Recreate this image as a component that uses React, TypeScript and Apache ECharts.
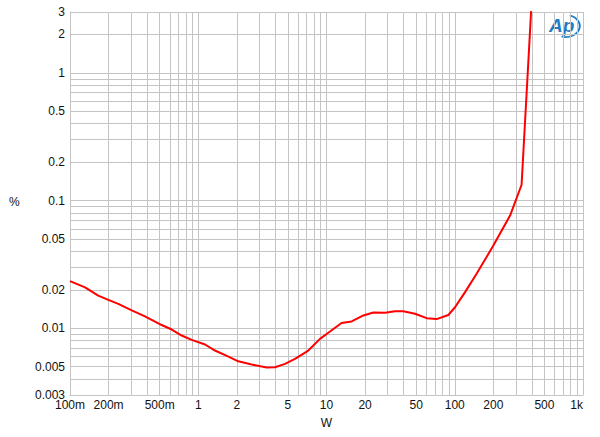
import React, { useEffect, useRef } from "react";
import * as echarts from "echarts";

// Output power (W)
const power = [
  0.1, 0.131, 0.166, 0.199, 0.238, 0.303, 0.384, 0.519, 0.621, 0.743, 0.889,
  1.13, 1.35, 1.72, 2.05, 2.61, 3.42, 3.97, 4.75, 5.68, 7.21, 8.9, 10.65,
  13.1, 15.7, 19.4, 23.2, 28.6, 34.2, 39.7, 49, 60.4, 72.3, 89.1, 100.5, 120,
  148, 200, 270, 332, 394,
];
// THD+N (%)
const thdn = [
  0.0234, 0.0209, 0.018, 0.0167, 0.0155, 0.0138, 0.0124, 0.0106, 0.00977,
  0.00877, 0.00811, 0.00746, 0.00669, 0.006, 0.00551, 0.0052, 0.00492,
  0.00495, 0.00526, 0.00576, 0.00669, 0.00826, 0.00942, 0.011, 0.0113,
  0.0126, 0.0133, 0.0132, 0.0136, 0.0136, 0.013, 0.012, 0.0118, 0.0127,
  0.0146, 0.0191, 0.0267, 0.0444, 0.0763, 0.133, 3.05,
];

const xLabelValues = [0.1, 0.2, 0.5, 1, 2, 5, 10, 20, 50, 100, 200, 500, 1000];
const xLabelTexts = ["100m", "200m", "500m", "1", "2", "5", "10", "20", "50", "100", "200", "500", "1k"];
const yLabelValues = [0.003, 0.005, 0.01, 0.02, 0.05, 0.1, 0.2, 0.5, 1, 2, 3];
const yLabelTexts = ["0.003", "0.005", "0.01", "0.02", "0.05", "0.1", "0.2", "0.5", "1", "2", "3"];

const xDecades = [0.1, 1, 10, 100];
const yDecades = [0.001, 0.01, 0.1, 1];
const mults = [1, 2, 3, 4, 5, 6, 7, 8, 9];

const round = (v: number) => Number(v.toPrecision(6));

const xGrid: number[] = [];
xDecades.forEach((d) => mults.forEach((m) => xGrid.push(round(d * m))));
xGrid.push(1000);
const yGrid: number[] = [];
yDecades.forEach((d) =>
  mults.forEach((m) => {
    const v = round(d * m);
    if (v >= 0.003 && v <= 3) yGrid.push(v);
  })
);

const findLabel = (vals: number[], texts: string[], v: number) => {
  for (let i = 0; i < vals.length; i++) {
    if (Math.abs(vals[i] - v) / vals[i] < 1e-4) return texts[i];
  }
  return "";
};

const FONT = "'Liberation Sans', Arial, sans-serif";
const GRID = "#c4c4c4";

export default function App() {
  const ref = useRef<HTMLDivElement>(null);
  useEffect(() => {
    if (!ref.current) return;
    const chart = echarts.init(ref.current, undefined, { renderer: "svg" });
    chart.setOption({
      animation: false,
      backgroundColor: "#ffffff",
      grid: { left: 70, right: 17, top: 12, bottom: 42, containLabel: false },
      xAxis: {
        type: "log",
        logBase: 10,
        min: 0.1,
        max: 1000,
        name: "W",
        nameLocation: "middle",
        nameGap: 22,
        nameTextStyle: { fontFamily: FONT, fontSize: 12, color: "#111" },
        axisLine: { show: true, lineStyle: { color: GRID, width: 1 } },
        axisTick: { show: false, customValues: xGrid },
        splitLine: { show: true, lineStyle: { color: GRID, width: 1 } },
        minorSplitLine: { show: false },
        axisLabel: {
          customValues: xLabelValues,
          formatter: (v: number) => findLabel(xLabelValues, xLabelTexts, v),
          fontFamily: FONT,
          fontSize: 12,
          color: "#111",
          margin: 4,
          alignMaxLabel: "right",
          showMinLabel: true,
          showMaxLabel: true,
        },
      },
      yAxis: {
        type: "log",
        logBase: 10,
        min: 0.003,
        max: 3,
        axisLine: { show: true, lineStyle: { color: GRID, width: 1 } },
        axisTick: { show: false, customValues: yGrid },
        splitLine: { show: true, lineStyle: { color: GRID, width: 1 } },
        axisLabel: {
          customValues: yLabelValues,
          formatter: (v: number) => findLabel(yLabelValues, yLabelTexts, v),
          fontFamily: FONT,
          fontSize: 12,
          color: "#111",
          margin: 5,
          showMinLabel: true,
          showMaxLabel: true,
        },
      },
      graphic: [
        {
          type: "text",
          left: 9,
          top: 196,
          style: { text: "%", font: `12px ${FONT}`, fill: "#111" },
        },
        {
          type: "group",
          left: 549,
          top: 13,
          children: [
            {
              type: "text",
              x: 0,
              y: 2,
              style: {
                text: "Ap",
                font: `italic bold 19px ${FONT}`,
                fill: "#1f7cc4",
              },
            },
            {
              type: "arc",
              shape: { cx: 17, cy: 12, r: 11, startAngle: -1.3, endAngle: 1.9 },
              scaleX: 1.25,
              originX: 17,
              originY: 12,
              style: { stroke: "#1f7cc4", lineWidth: 1.6, fill: "none" },
            },
          ],
        },
      ],
      series: [
        {
          type: "line",
          data: power.map((p, i) => [p, thdn[i]]),
          showSymbol: false,
          smooth: false,
          clip: true,
          lineStyle: { color: "#ff0000", width: 2 },
          itemStyle: { color: "#ff0000" },
        },
      ],
    });
    return () => chart.dispose();
  }, []);
  return (
    <div
      ref={ref}
      style={{ position: "fixed", left: 0, top: 0, width: 600, height: 437, background: "#fff" }}
    />
  );
}
